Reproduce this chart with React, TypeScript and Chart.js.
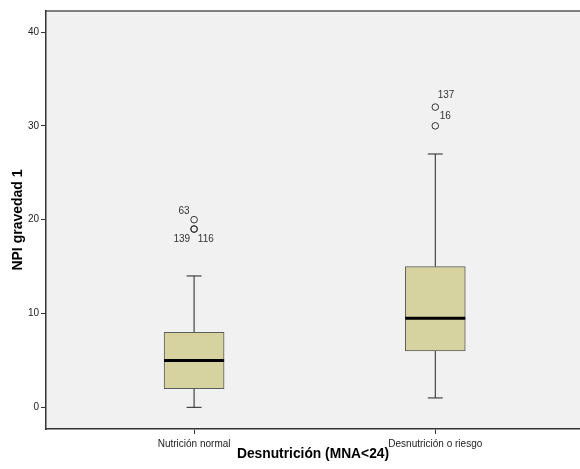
import React, { useEffect, useRef } from 'react';
import { Chart, registerables } from 'chart.js';

Chart.register(...registerables);

// ---- data ----
const categories = ['Nutrición normal', 'Desnutrición o riesgo'];
const whiskerLow = [0, 1];
const quartile1 = [2, 6];
const medians = [5, 9.5];
const quartile3 = [8, 15];
const whiskerHigh = [14, 27];
const outlierCategory = [0, 0, 0, 1, 1];
const outlierValues = [20, 19, 19, 32, 30];
const outlierCases = ['63', '139', '116', '137', '16'];
const yTicks = [0, 10, 20, 30, 40];
const xTitle = 'Desnutrición (MNA<24)';
const yTitle = 'NPI gravedad 1';

// ---- style ----
const FONT = '"Liberation Sans", Arial, Helvetica, sans-serif';
const BOX_FILL = '#d6d3a1';
const BOX_BORDER = '#5c5c5c';
const PLOT_BG = '#f1f1f1';
const BOX_HALF = 0.1245; // half box width in category units
const CAP_HALF = 0.031; // half whisker cap width in category units
const labelOffsets: [number, number][] = [
  [-10, -8.6],
  [-12.3, 10],
  [11.7, 10],
  [10.7, -11.7],
  [10, -10],
];

const catX = (i: number) => i + 1;

export default function App() {
  const ref = useRef<HTMLCanvasElement | null>(null);

  useEffect(() => {
    if (!ref.current) return;

    const boxData = categories.map((_, i) => ({ x: catX(i), y: [quartile1[i], quartile3[i]] }));
    const whiskerData: any[] = [];
    categories.forEach((_, i) => {
      const x = catX(i);
      whiskerData.push({ x, y: whiskerLow[i] }, { x, y: quartile1[i] }, { x, y: null });
      whiskerData.push({ x, y: quartile3[i] }, { x, y: whiskerHigh[i] }, { x, y: null });
      whiskerData.push({ x: x - CAP_HALF, y: whiskerLow[i] }, { x: x + CAP_HALF, y: whiskerLow[i] }, { x, y: null });
      whiskerData.push({ x: x - CAP_HALF, y: whiskerHigh[i] }, { x: x + CAP_HALF, y: whiskerHigh[i] }, { x, y: null });
    });
    const medianData: any[] = [];
    categories.forEach((_, i) => {
      const x = catX(i);
      medianData.push({ x: x - BOX_HALF, y: medians[i] }, { x: x + BOX_HALF, y: medians[i] }, { x, y: null });
    });
    const outlierData = outlierValues.map((v, k) => ({ x: catX(outlierCategory[k]), y: v }));

    const bgPlugin = {
      id: 'plotBg',
      beforeDraw(chart: any) {
        const { ctx, chartArea } = chart;
        ctx.save();
        ctx.fillStyle = PLOT_BG;
        ctx.fillRect(chartArea.left, chartArea.top, chartArea.right - chartArea.left, chartArea.bottom - chartArea.top);
        ctx.strokeStyle = '#808080';
        ctx.lineWidth = 2;
        ctx.beginPath();
        ctx.moveTo(chartArea.left, chartArea.top);
        ctx.lineTo(chartArea.right, chartArea.top);
        ctx.stroke();
        ctx.restore();
      },
    };

    const labelPlugin = {
      id: 'outlierLabels',
      afterDatasetsDraw(chart: any) {
        const { ctx, scales } = chart;
        ctx.save();
        ctx.font = `10px ${FONT}`;
        ctx.fillStyle = '#333';
        ctx.textAlign = 'center';
        ctx.textBaseline = 'middle';
        outlierCases.forEach((c, k) => {
          const px = scales.x.getPixelForValue(catX(outlierCategory[k]));
          const py = scales.y.getPixelForValue(outlierValues[k]);
          const [dx, dy] = labelOffsets[k];
          ctx.fillText(c, px + dx, py + dy);
        });
        ctx.restore();
      },
    };

    const chart = new Chart(ref.current, {
      type: 'bar',
      data: {
        datasets: [
          { type: 'line', data: whiskerData, borderColor: '#222', borderWidth: 1, pointRadius: 0, spanGaps: false, order: 3 } as any,
          { type: 'bar', data: boxData, backgroundColor: BOX_FILL, borderColor: BOX_BORDER, borderWidth: 1, borderSkipped: false, barThickness: 60, order: 2 } as any,
          { type: 'line', data: medianData, borderColor: '#000', borderWidth: 3, pointRadius: 0, spanGaps: false, order: 1 } as any,
          { type: 'scatter', data: outlierData, pointStyle: 'circle', pointRadius: 3.3, borderColor: '#333', borderWidth: 1, backgroundColor: 'rgba(0,0,0,0)', order: 0 } as any,
        ],
      },
      options: {
        animation: false,
        responsive: false,
        events: [],
        layout: { autoPadding: false, padding: { top: 11, right: 0, left: 0, bottom: 0 } },
        plugins: { legend: { display: false }, tooltip: { enabled: false } },
        scales: {
          x: {
            type: 'linear', min: 0.386, max: 2.6, offset: false,
            afterBuildTicks: (axis: any) => { axis.ticks = categories.map((_, i) => ({ value: catX(i) })); },
            afterFit: (scale: any) => { scale.height = 40; scale.paddingLeft = 0; scale.paddingRight = 0; },
            ticks: {
              callback: (v: any) => categories[Math.round(Number(v)) - 1] ?? '',
              font: { family: FONT, size: 10 }, color: '#222', padding: 4, maxRotation: 0, autoSkip: false,
            },
            grid: { display: true, drawOnChartArea: false, drawTicks: true, tickLength: 5, color: '#333', offset: false },
            border: { display: true, color: '#333', width: 1.5 },
            title: { display: true, text: xTitle, font: { family: FONT, size: 13.8, weight: 'bold' }, color: '#000', padding: { top: 0, bottom: 7 } },
          },
          y: {
            type: 'linear', min: -2.31, max: 42.24,
            afterBuildTicks: (axis: any) => { axis.ticks = yTicks.map((v) => ({ value: v })); },
            afterFit: (scale: any) => { scale.width = 46; },
            ticks: { font: { family: FONT, size: 10 }, color: '#222', padding: 2 },
            grid: { display: true, drawOnChartArea: false, drawTicks: true, tickLength: 5, color: '#333' },
            border: { display: true, color: '#333', width: 1.5 },
            title: { display: true, text: yTitle, font: { family: FONT, size: 14, weight: 'bold' }, color: '#000', padding: { top: 10, bottom: 0 } },
          },
        },
      },
      plugins: [bgPlugin, labelPlugin],
    } as any);

    return () => chart.destroy();
  }, []);

  return (
    <div style={{ position: 'fixed', left: 0, top: 0, width: 580, height: 469, background: '#fff' }}>
      <canvas ref={ref} width={580} height={469} style={{ display: 'block', width: 580, height: 469 }} />
    </div>
  );
}
